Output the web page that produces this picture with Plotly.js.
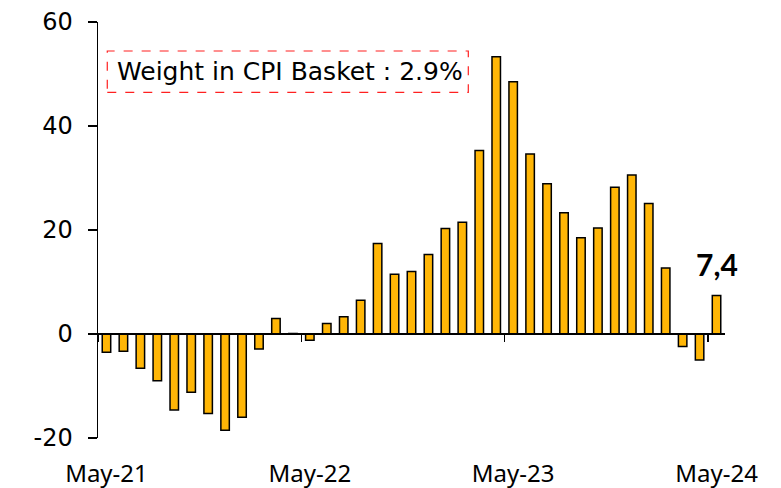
<!DOCTYPE html>
<html>
<head>
<meta charset="utf-8">
<script src="https://cdn.plot.ly/plotly-3.0.1.min.js"></script>
<style>html,body{margin:0;padding:0;background:#fff;}#chart{width:781px;height:488px;}</style>
</head>
<body>
<div id="chart"></div>
<script>
const months = ['May-21','Jun-21','Jul-21','Aug-21','Sep-21','Oct-21','Nov-21','Dec-21','Jan-22','Feb-22','Mar-22','Apr-22',
  'May-22','Jun-22','Jul-22','Aug-22','Sep-22','Oct-22','Nov-22','Dec-22','Jan-23','Feb-23','Mar-23','Apr-23',
  'May-23','Jun-23','Jul-23','Aug-23','Sep-23','Oct-23','Nov-23','Dec-23','Jan-24','Feb-24','Mar-24','Apr-24','May-24'];
const values = [-3.5,-3.3,-6.6,-9.0,-14.6,-11.2,-15.3,-18.5,-16.0,-2.9,3.0,0.1,
  -1.2,2.0,3.3,6.5,17.4,11.5,12.0,15.3,20.3,21.5,35.3,53.3,
  48.5,34.6,28.9,23.3,18.5,20.4,28.2,30.6,25.1,12.7,-2.4,-5.0,7.4];
const tickLabels = ['May-21','May-22','May-23','May-24'];
const boundaryTicks = [-0.5, 11.5, 23.5, 35.5];
const yTickVals = [-20, 0, 20, 40, 60];
const yTickText = ['-20', '0', '20', '40', '60'];
const lastLabel = '7,4';
const boxText = 'Weight in CPI Basket : 2.9%';

const traces = [
  {type:'bar', x: months, y: values, xaxis:'x', yaxis:'y',
   marker:{color:'#FFB606', line:{color:'#000', width:1.5}}, width:0.5, hoverinfo:'x+y'},
  {type:'scatter', x: [], y: [], xaxis:'x2', yaxis:'y', showlegend:false}
];

const layout = {
  width:781, height:488,
  margin:{l:98, r:56, t:22, b:50},
  paper_bgcolor:'#fff', plot_bgcolor:'#fff',
  showlegend:false,
  bargap:0.5,
  font:{family:'Lato, sans-serif', color:'#000'},
  xaxis:{type:'category', categoryorder:'array', categoryarray: months,
    range:[-0.5, 36.5], tickmode:'array', tickvals: tickLabels, ticktext: tickLabels,
    ticks:'', showline:false, showgrid:false, zeroline:false,
    tickfont:{family:'Noto Sans, sans-serif', size:24, color:'#000'}, ticklabelstandoff:19},
  xaxis2:{type:'linear', overlaying:'x', anchor:'free', position:0.25, range:[-0.5, 36.5],
    tickmode:'array', tickvals: boundaryTicks, ticks:'outside', ticklen:7, tickwidth:1.5, tickcolor:'#000',
    showline:true, linecolor:'#000', linewidth:2, showticklabels:false, showgrid:false, zeroline:false},
  yaxis:{range:[-20,60], tickmode:'array', tickvals: yTickVals, ticktext: yTickText, ticks:'outside', ticklen:9, tickwidth:1.5,
    tickcolor:'#000', showline:true, linecolor:'#000', linewidth:1.5, showgrid:false, zeroline:false,
    tickfont:{family:'DejaVu Sans, sans-serif', size:24, color:'#000'}, ticklabelstandoff:10},
  shapes:[{type:'rect', xref:'paper', yref:'paper', x0:0.0148, x1:0.5906, y0:0.831, y1:0.9303,
    line:{color:'#FF2020', width:1.2, dash:'dash'}, fillcolor:'rgba(0,0,0,0)'}],
  annotations:[
    {xref:'paper', yref:'paper', x:0.306, y:0.881, text: boxText, showarrow:false,
     xanchor:'center', yanchor:'middle', font:{family:'DejaVu Sans, sans-serif', size:25, color:'#000'}},
    {xref:'x', yref:'y', x: months[months.length-1], y: values[values.length-1], text:'<b>'+lastLabel+'</b>',
     showarrow:false, xanchor:'center', yanchor:'bottom', yshift:12,
     font:{family:'Lato, sans-serif', size:30, color:'#000'}}
  ]
};
Plotly.newPlot('chart', traces, layout, {displayModeBar:false, staticPlot:true});
</script>
</body>
</html>
